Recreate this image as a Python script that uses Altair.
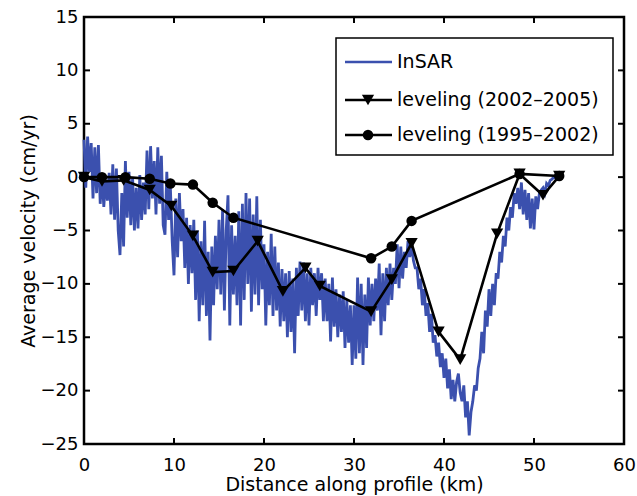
import altair as alt
import pandas as pd

# ---------------- data ----------------
x_ticks = [0, 10, 20, 30, 40, 50, 60]
y_ticks = [-25, -20, -15, -10, -5, 0, 5, 10, 15]

legend_labels = ["InSAR", "leveling (2002\u20132005)", "leveling (1995\u20132002)"]

insar_start = 0.0
insar_step = 0.2
insar_v = [
    3.5, -1.0, 3.8, 0.5, 3.2,        # 0
    -2.0, 2.8, -1.5, 3.0, -2.5,      # 1
    0.2, -2.8, -0.3, -2.2, 0.4,      # 2
    -3.5, 1.2, -4.0, 0.8, -5.0,      # 3
    -7.3, -1.5, -6.5, 1.5, -3.8,     # 4
    0.5, -4.5, 0.0, -5.0, -1.0,      # 5
    -4.8, 0.2, -4.0, -0.5, -3.5,     # 6
    2.5, -3.0, 2.9, -2.0, 1.5,       # 7
    -3.5, 2.8, -2.5, 2.0, -4.5,      # 8
    -5.4, 0.5, -4.0, -1.0, -6.0,     # 9
    -9.2, -2.0, -7.5, -1.5, -6.0,    # 10
    -3.0, -8.5, -3.8, -10.0, -4.5,   # 11
    -9.0, -4.0, -11.5, -5.0, -13.5,  # 12
    -6.0, -12.0, -4.1, -13.0, -7.0,  # 13
    -15.3, -6.5, -12.0, -5.5, -10.5, # 14
    -4.0, -11.0, -3.0, -12.5, -5.0,  # 15
    -1.7, -13.9, -4.5, -11.0, -5.5,  # 16
    -12.0, -3.2, -13.9, -2.5, -11.5, # 17
    -1.5, -10.0, -2.0, -12.6, -3.5,  # 18
    -11.0, -1.8, -12.0, -4.0, -10.5, # 19
    -6.3, -13.9, -7.0, -12.0, -5.3,  # 20
    -13.0, -6.5, -12.5, -8.0, -14.0, # 21
    -8.6, -13.5, -9.0, -15.0, -8.8,  # 22
    -14.5, -9.5, -16.5, -8.5, -13.0, # 23
    -7.9, -12.5, -8.0, -13.5, -9.0,  # 24
    -13.9, -8.5, -12.0, -9.0, -13.0, # 25
    -8.5, -11.5, -9.0, -13.5, -9.5,  # 26
    -13.5, -10.0, -15.4, -9.4, -14.0,  # 27
    -10.5, -15.0, -11.0, -14.5, -10.7, # 28
    -16.0, -11.5, -15.5, -12.0, -17.6, # 29
    -12.0, -17.0, -9.4, -16.5, -10.0,  # 30
    -17.6, -11.0, -16.0, -9.4, -13.9,  # 31
    -10.0, -13.5, -9.5, -12.5, -8.1,   # 32
    -14.8, -9.0, -13.5, -8.5, -12.0,   # 33
    -8.1, -11.5, -8.5, -10.0, -6.3,    # 34
    -10.4, -6.5, -9.5, -7.0, -8.5,     # 35
    -6.0, -7.5, -6.2, -7.8, -8.5,      # 36
    -8.5, -10.5, -9.5, -12.0, -10.5,   # 37
    -13.0, -11.8, -14.5, -12.8, -15.5, # 38
    -14.8, -16.8, -15.5, -17.8, -16.5, # 39
    -18.8, -17.0, -19.8, -18.0, -20.8, # 40
    -19.0, -21.0, -19.2, -18.4, -20.2, # 41
    -21.0, -19.5, -22.5, -21.0, -24.2, # 42
    -22.0, -21.0, -19.5, -20.0, -17.9, # 43
    -17.0, -14.5, -16.5, -12.5, -14.0, # 44
    -10.5, -13.0, -10.0, -12.0, -9.0,  # 45
    -9.5, -7.0, -8.0, -5.5, -6.5,      # 46
    -3.8, -5.0, -2.8, -3.8, -1.5,      # 47
    -2.5, -1.0, -3.0, -0.5, -3.5,      # 48
    -1.2, -4.0, -1.5, -4.8, -2.0,      # 49
    -4.9, -1.8, -3.0, -1.5, -1.2,      # 50
    -1.0, -1.5, -0.6, -0.8, -0.3,      # 51
    -0.2, 0.0, -0.1,                   # 52
]

lev0205_x = [0, 2.0, 4.4, 7.3, 9.7, 12.1, 14.3, 16.6, 19.3, 22.1, 24.6, 26.2,
             31.9, 34.2, 36.4, 39.4, 41.8, 45.9, 48.4, 51.0, 52.8]
lev0205_v = [0, -0.4, -0.3, -1.2, -2.7, -5.5, -8.9, -8.8, -6.0, -10.7, -8.5, -10.2,
             -12.6, -9.6, -6.2, -14.5, -17.1, -5.3, 0.3, -1.7, 0.1]

lev9502_x = [0, 2.0, 4.6, 7.3, 9.6, 12.1, 14.3, 16.6, 31.9, 34.2, 36.4, 48.4, 52.8]
lev9502_v = [0, 0, 0, -0.15, -0.6, -0.7, -2.4, -3.8, -7.6, -6.5, -4.1, 0.3, 0.1]

# ---------------- tables ----------------
insar_df = pd.DataFrame({
    "x": [round(insar_start + i * insar_step, 3) for i in range(len(insar_v))],
    "v": insar_v,
})
l1_df = pd.DataFrame({"x": lev0205_x, "v": lev0205_v})
l2_df = pd.DataFrame({"x": lev9502_x, "v": lev9502_v})
xt_df = pd.DataFrame({"x": x_ticks})
yt_df = pd.DataFrame({"v": y_ticks})
one = pd.DataFrame({"k": [0]})

W, H = 540, 427
FONT = "DejaVu Sans"
BLUE = "#3b50ae"

xs = alt.Scale(domain=[0, 60], nice=False, zero=False)
ys = alt.Scale(domain=[-25, 15], nice=False, zero=False)

x_axis = alt.Axis(values=x_ticks, title="Distance along profile (km)", ticks=False,
                  domain=False, grid=False, labelPadding=26, labelBaseline="alphabetic",
                  labelFontSize=18, labelFont=FONT, labelColor="black", labelFlush=False,
                  labelOverlap=False, titleFont=FONT, titleFontSize=19, titleFontWeight="normal",
                  titleColor="black", titleX=W / 2, titleY=46, titleAlign="center",
                  titleBaseline="alphabetic")
y_axis = alt.Axis(values=y_ticks, title="Average velocity (cm/yr)", ticks=False,
                  domain=False, grid=False, labelPadding=6, labelAlign="right",
                  labelBaseline="middle", labelFontSize=18, labelFont=FONT, labelColor="black",
                  labelFlush=False, labelOverlap=False, titleFont=FONT, titleFontSize=19,
                  titleFontWeight="normal", titleColor="black", titleAngle=270, titleX=-50,
                  titleY=H / 2, titleAlign="center", titleBaseline="alphabetic")

X = alt.X("x:Q", scale=xs, axis=x_axis)
Y = alt.Y("v:Q", scale=ys, axis=y_axis)

insar = alt.Chart(insar_df).mark_line(color=BLUE, strokeWidth=2.8).encode(x=X, y=Y)

lev1_line = alt.Chart(l1_df).mark_line(color="black", strokeWidth=2.6).encode(x=X, y=Y)
lev1_pts = alt.Chart(l1_df).mark_point(shape="triangle-down", filled=True, color="black",
                                       size=150, opacity=1).encode(x=X, y=Y)
lev2_line = alt.Chart(l2_df).mark_line(color="black", strokeWidth=2.6).encode(x=X, y=Y)
lev2_pts = alt.Chart(l2_df).mark_point(shape="circle", filled=True, color="black",
                                       size=110, opacity=1).encode(x=X, y=Y)

# inward ticks on all four sides
tick_len = 6
t_bottom = alt.Chart(xt_df).mark_rule(color="black", strokeWidth=2).encode(
    x=X, y=alt.value(H), y2=alt.value(H - tick_len))
t_top = alt.Chart(xt_df).mark_rule(color="black", strokeWidth=2).encode(
    x=X, y=alt.value(0), y2=alt.value(tick_len))
t_left = alt.Chart(yt_df).mark_rule(color="black", strokeWidth=2).encode(
    y=Y, x=alt.value(0), x2=alt.value(tick_len))
t_right = alt.Chart(yt_df).mark_rule(color="black", strokeWidth=2).encode(
    y=Y, x=alt.value(W), x2=alt.value(W - tick_len))

# legend
lg_box = alt.Chart(one).mark_rect(fill="white", stroke="black", strokeWidth=1.5).encode(
    x=alt.value(252), x2=alt.value(529), y=alt.value(21), y2=alt.value(138))
rows = [45, 83, 118]
lg_layers = [lg_box]
lg_layers.append(alt.Chart(one).mark_rule(color=BLUE, strokeWidth=2.6).encode(
    x=alt.value(261), x2=alt.value(308), y=alt.value(rows[0])))
for r in rows[1:]:
    lg_layers.append(alt.Chart(one).mark_rule(color="black", strokeWidth=2.6).encode(
        x=alt.value(261), x2=alt.value(308), y=alt.value(r)))
lg_layers.append(alt.Chart(one).mark_point(shape="triangle-down", filled=True, color="black",
                                           size=150, opacity=1).encode(
    x=alt.value(284), y=alt.value(rows[1])))
lg_layers.append(alt.Chart(one).mark_point(shape="circle", filled=True, color="black",
                                           size=110, opacity=1).encode(
    x=alt.value(284), y=alt.value(rows[2])))
for lab, r in zip(legend_labels, rows):
    lg_layers.append(alt.Chart(one).mark_text(align="left", baseline="middle", fontSize=19,
                                              font=FONT, color="black").encode(
        x=alt.value(313), y=alt.value(r), text=alt.value(lab)))

chart = alt.layer(
    insar, lev1_line, lev2_line, lev1_pts, lev2_pts,
    t_bottom, t_top, t_left, t_right, *lg_layers
).properties(
    width=W, height=H,
    autosize=alt.AutoSizeParams(type="none"),
    padding={"left": 84, "top": 17, "right": 13, "bottom": 52},
    background="white",
).configure_view(stroke="black", strokeWidth=2.5)

chart.save("out.html", embed_options={"renderer": "svg", "actions": False})
